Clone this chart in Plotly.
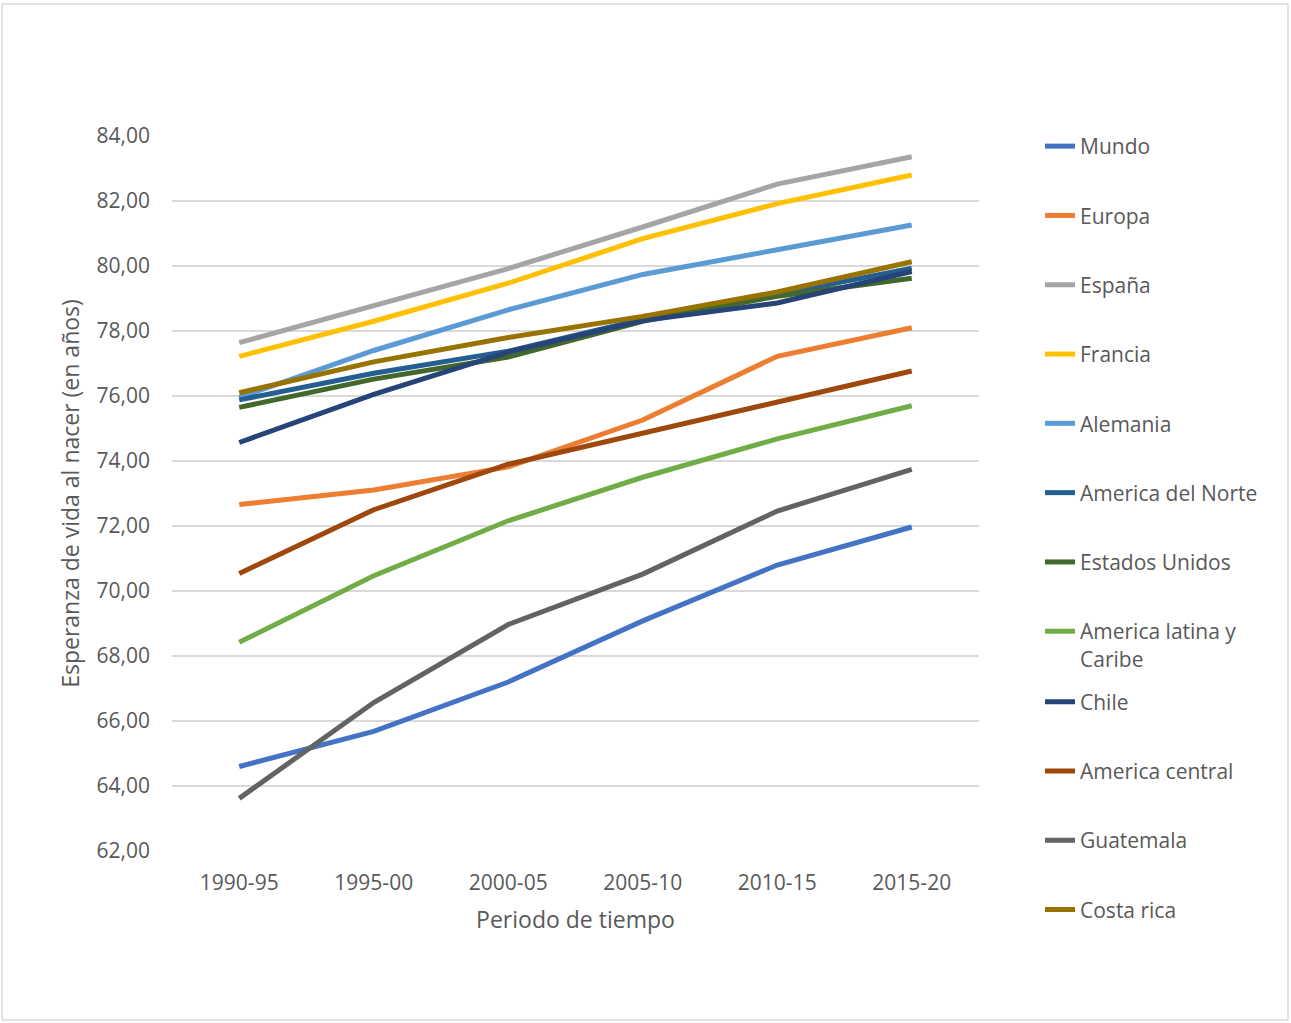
import plotly.graph_objects as go

# Periods (x categories)
periodos = ["1990-95", "1995-00", "2000-05", "2005-10", "2010-15", "2015-20"]

# Life expectancy at birth per region/country
mundo = [64.60, 65.68, 67.20, 69.08, 70.80, 71.97]
europa = [72.66, 73.11, 73.82, 75.26, 77.22, 78.10]
espana = [77.64, 78.78, 79.92, 81.20, 82.52, 83.36]
francia = [77.22, 78.30, 79.47, 80.84, 81.92, 82.80]
alemania = [75.95, 77.40, 78.65, 79.74, 80.50, 81.26]
america_norte = [75.88, 76.70, 77.38, 78.36, 79.12, 79.93]
estados_unidos = [75.65, 76.52, 77.20, 78.30, 79.07, 79.62]
america_latina = [68.42, 70.47, 72.16, 73.50, 74.68, 75.70]
chile = [74.57, 76.05, 77.35, 78.32, 78.86, 79.83]
america_central = [70.54, 72.50, 73.90, 74.85, 75.80, 76.77]
guatemala = [63.62, 66.57, 68.97, 70.52, 72.46, 73.74]
costa_rica = [76.10, 77.05, 77.80, 78.45, 79.20, 80.13]

series = [
    ("Mundo", mundo, "#4472C4", "legend"),
    ("Europa", europa, "#ED7D31", "legend"),
    ("España", espana, "#A5A5A5", "legend"),
    ("Francia", francia, "#FFC000", "legend"),
    ("Alemania", alemania, "#5B9BD5", "legend"),
    ("America del Norte", america_norte, "#255E91", "legend"),
    ("Estados Unidos", estados_unidos, "#43682B", "legend"),
    ("America latina y<br>Caribe", america_latina, "#70AD47", "legend"),
    ("Chile", chile, "#264478", "legend2"),
    ("America central", america_central, "#9E480E", "legend2"),
    ("Guatemala", guatemala, "#636363", "legend2"),
    ("Costa rica", costa_rica, "#997300", "legend2"),
]

TEXT = "#595959"
GRID = "#D9D9D9"
FONT = "Open Sans"

fig = go.Figure()
for i, (name, vals, color, leg) in enumerate(series):
    fig.add_trace(go.Scatter(
        x=periodos, y=vals, name=name, mode="lines",
        line=dict(color=color, width=5),
        legendgroup=f"g{i}", legend=leg,
    ))

legend_common = dict(
    font=dict(family=FONT, size=21, color=TEXT),
    bgcolor="rgba(0,0,0,0)",
    tracegroupgap=39,
    traceorder="grouped",
    valign="top",
    xanchor="left",
    yanchor="top",
    itemclick=False,
    maxheight=1000,
)

fig.update_layout(
    width=1291, height=1023,
    margin=dict(l=172, r=312, t=136, b=172),
    paper_bgcolor="white",
    plot_bgcolor="white",
    separators=",.",
    font=dict(family=FONT, color=TEXT),
    showlegend=True,
    legend=dict(x=1.0756, y=1.014, **legend_common),
    legend2=dict(x=1.0756, y=0.237, **legend_common),
    xaxis=dict(
        type="category",
        range=[-0.5, 5.5],
        showgrid=False,
        showline=False,
        zeroline=False,
        ticks="",
        tickfont=dict(family=FONT, size=21, color=TEXT),
        ticklabelstandoff=17,
        title=dict(text="Periodo de tiempo",
                   font=dict(family=FONT, size=23, color=TEXT),
                   standoff=16),
    ),
    yaxis=dict(
        range=[62, 84],
        dtick=2,
        tick0=62,
        tickformat=".2f",
        showgrid=True,
        gridcolor=GRID,
        gridwidth=1.5,
        zeroline=False,
        showline=False,
        ticks="",
        tickfont=dict(family=FONT, size=21, color=TEXT),
        ticklabelstandoff=21,
        title=dict(text="Esperanza de vida al nacer (en años)",
                   font=dict(family=FONT, size=23, color=TEXT),
                   standoff=10),
    ),
    shapes=[
        # outer chart frame
        dict(type="rect", xref="paper", yref="paper",
             x0=(2 - 172) / 807, x1=(1288 - 172) / 807,
             y0=(851 - 1020) / 715, y1=(851 - 4) / 715,
             line=dict(color=GRID, width=1.5), fillcolor="rgba(0,0,0,0)",
             layer="below"),
    ],
)

fig.write_html("out.html")
